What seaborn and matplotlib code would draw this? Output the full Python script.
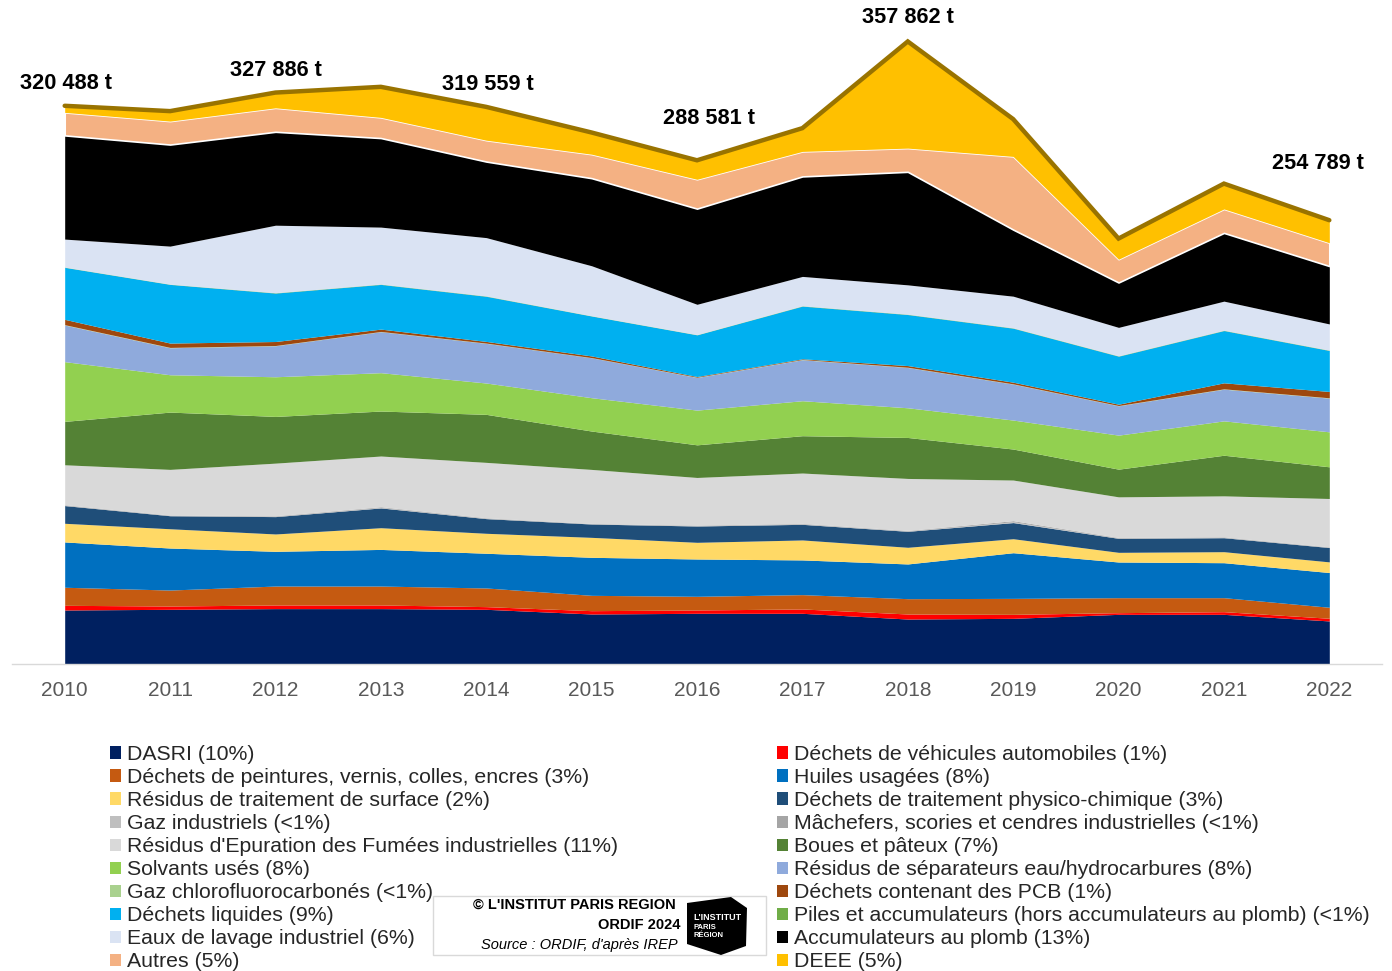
import matplotlib
matplotlib.use("Agg")
import matplotlib.pyplot as plt
from matplotlib.patches import Patch, Rectangle, Polygon
import seaborn as sns
import numpy as np

years = [2010, 2011, 2012, 2013, 2014, 2015, 2016, 2017, 2018, 2019, 2020, 2021, 2022]

# tonnages per waste category
dasri = [31100, 31500, 31900, 31900, 31500, 28800, 29200, 29200, 25900, 26300, 28600, 28600, 24800]
vehicules = [2700, 1900, 2100, 2100, 1540, 1920, 1920, 2500, 2900, 2300, 960, 1540, 1540]
peintures = [10400, 9200, 10900, 10900, 10750, 8830, 7870, 8250, 8830, 9200, 8640, 8060, 6340]
huiles = [26100, 24200, 20000, 21100, 20000, 21900, 21500, 20000, 20000, 26300, 20550, 20150, 20000]
surface = [10750, 11100, 10000, 12500, 11500, 11500, 9600, 11500, 9600, 8060, 5570, 6340, 6140]
physico = [10200, 7500, 10000, 11400, 8450, 7680, 9400, 9000, 9200, 9300, 8060, 8060, 8260]
gaz_ind = [200, 150, 200, 300, 200, 150, 200, 250, 200, 500, 200, 200, 150]
machefers = [300, 250, 300, 400, 300, 200, 300, 300, 300, 600, 300, 300, 250]
refi = [23000, 26300, 30300, 29200, 31900, 31100, 27450, 29000, 29950, 23400, 23400, 23600, 27850]
boues = [25000, 33000, 26900, 25900, 27650, 22100, 18800, 21500, 23600, 17850, 15950, 23400, 18250]
solvants = [34400, 21500, 22850, 22100, 18050, 19200, 20000, 20150, 17100, 16700, 19600, 19800, 20150]
separateurs = [21100, 15550, 17850, 23600, 22850, 23000, 18800, 23600, 23200, 20700, 16900, 18250, 19400]
cfc = [200, 200, 150, 150, 150, 100, 150, 150, 150, 150, 150, 200, 200]
pcb = [3070, 2500, 2300, 1350, 960, 960, 400, 400, 960, 960, 770, 3460, 3650]
liquides = [29950, 33800, 27900, 25750, 26000, 23000, 24000, 30350, 29400, 31100, 27650, 30100, 23600]
piles = [150, 150, 200, 200, 200, 150, 150, 200, 200, 200, 200, 200, 200]
eaux = [16130, 21900, 38900, 32800, 33600, 28800, 17450, 16900, 16900, 18250, 16400, 16750, 15100]
accu_plomb = [59730, 58500, 53800, 51300, 43800, 50450, 55100, 57600, 65100, 38350, 25850, 39300, 33350]
autres = [13250, 13500, 13800, 11900, 12300, 13800, 16900, 14400, 13650, 42150, 13400, 13800, 13400]
deee = [3800, 5760, 8800, 17600, 19200, 12500, 10950, 13400, 61450, 21500, 11900, 14600, 13000]

series = [dasri, vehicules, peintures, huiles, surface, physico, gaz_ind, machefers,
          refi, boues, solvants, separateurs, cfc, pcb, liquides, piles, eaux,
          accu_plomb, autres, deee]

labels = [
    "DASRI (10%)",
    "Déchets de véhicules automobiles (1%)",
    "Déchets de peintures, vernis, colles, encres (3%)",
    "Huiles usagées (8%)",
    "Résidus de traitement de surface (2%)",
    "Déchets de traitement physico-chimique (3%)",
    "Gaz industriels (<1%)",
    "Mâchefers, scories et cendres industrielles (<1%)",
    "Résidus d'Epuration des Fumées industrielles (11%)",
    "Boues et pâteux (7%)",
    "Solvants usés (8%)",
    "Résidus de séparateurs eau/hydrocarbures (8%)",
    "Gaz chlorofluorocarbonés (<1%)",
    "Déchets contenant des PCB (1%)",
    "Déchets liquides (9%)",
    "Piles et accumulateurs (hors accumulateurs au plomb) (<1%)",
    "Eaux de lavage industriel (6%)",
    "Accumulateurs au plomb (13%)",
    "Autres (5%)",
    "DEEE (5%)",
]

colors = ["#002060", "#FF0000", "#C55A11", "#0070C0", "#FFD966", "#1F4E79",
          "#BFBFBF", "#A5A5A5", "#D9D9D9", "#548235", "#92D050", "#8FAADC",
          "#A9D18E", "#9E480E", "#00B0F0", "#70AD47", "#DAE3F3", "#000000",
          "#F4B183", "#FFC000"]

# totals printed on the chart
label_years = [2010, 2012, 2014, 2016, 2018, 2022]
label_totals = [320488, 327886, 319559, 288581, 357862, 254789]

W, H = 1392, 971
sns.set_theme(style="white")
plt.rcParams["font.family"] = ["Liberation Sans", "DejaVu Sans"]

fig = plt.figure(figsize=(W / 100, H / 100), dpi=100)
ax = fig.add_axes([12 / W, 1 - 664 / H, 1370 / W, 664 / H])

polys = ax.stackplot(years, *series, colors=colors, linewidth=0, zorder=2)
polys[18].set_edgecolor("white")
polys[18].set_linewidth(1.2)

total = np.sum(np.array(series), axis=0)
sns.lineplot(x=years, y=total, ax=ax, color="#997300", linewidth=3.2, zorder=4,
             solid_joinstyle="miter")

label_offsets = {2010: (1, 16), 2012: (0, 16), 2014: (1, 16), 2016: (9, 30),
                 2018: (0, 17), 2022: (-8, 41)}
for yr, tot in zip(label_years, label_totals):
    i = years.index(yr)
    txt = f"{tot:,}".replace(",", " ") + " t"
    ax.annotate(txt, (yr, total[i]), xytext=label_offsets[yr], textcoords="offset points",
                ha="center", va="center", fontsize=15.7, fontweight="bold", color="black")

ax.set_xlim(2009.5, 2022.5)
ax.set_ylim(0, 664 * 576)
ax.set_yticks([])
ax.set_xticks(years)
ax.set_xticklabels([str(y) for y in years])
ax.set_xticks(np.arange(2009.5, 2023.0, 1.0), minor=True)
ax.tick_params(axis="x", which="major", length=0, pad=12, labelsize=15, labelcolor="#595959")
ax.tick_params(axis="x", which="minor", length=6, width=1, color="#D9D9D9", direction="out")
for s in ["top", "left", "right"]:
    ax.spines[s].set_visible(False)
ax.spines["bottom"].set_color("#D9D9D9")
ax.spines["bottom"].set_linewidth(1)
ax.set_facecolor("none")
ax.grid(False)

# legend, two columns read row by row
handles = [Patch(facecolor=c, edgecolor="none") for c in colors]
leg_kw = dict(loc="upper left", frameon=False, fontsize=15.3, handlelength=0.5,
              handleheight=0.5, handletextpad=0.3, borderaxespad=0, borderpad=0,
              labelspacing=0.19, labelcolor="#262626")
leg1 = fig.legend(handles[0::2], labels[0::2], bbox_to_anchor=(110 / W, 1 - 745 / H), **leg_kw)
leg2 = fig.legend(handles[1::2], labels[1::2], bbox_to_anchor=(777 / W, 1 - 745 / H), **leg_kw)


def fx(px):
    return px / W


def fy(py):
    return 1 - py / H


# source box
box = Rectangle((fx(433), fy(955)), fx(766) - fx(433), fy(896) - fy(955),
                transform=fig.transFigure, facecolor="white", edgecolor="#D9D9D9",
                linewidth=1, zorder=10)
fig.add_artist(box)
fig.text(fx(676), fy(905), "© L'INSTITUT PARIS REGION", ha="right", va="center",
         fontsize=10.5, fontweight="bold", color="black", zorder=11)
fig.text(fx(680), fy(925), "ORDIF 2024", ha="right", va="center",
         fontsize=10.5, fontweight="bold", color="black", zorder=11)
fig.text(fx(678), fy(945), "Source : ORDIF, d'après IREP", ha="right", va="center",
         fontsize=10.5, fontstyle="italic", color="black", zorder=11)

logo_pts = [(687, 903), (731, 897), (747, 908), (746, 946), (721, 955), (687, 944)]
logo = Polygon([(fx(x), fy(y)) for x, y in logo_pts], closed=True, transform=fig.transFigure,
               facecolor="black", edgecolor="none", zorder=11)
fig.add_artist(logo)
fig.text(fx(693), fy(917), "L'INSTITUT", ha="left", va="center", fontsize=6.5,
         fontweight="bold", color="white", zorder=12)
fig.text(fx(693), fy(927), "PARIS", ha="left", va="center", fontsize=5.5,
         fontweight="bold", color="white", zorder=12)
fig.text(fx(693), fy(935), "RÉGION", ha="left", va="center", fontsize=5.5,
         fontweight="bold", color="white", zorder=12)

fig.savefig("out.png", dpi=100, facecolor="white")
